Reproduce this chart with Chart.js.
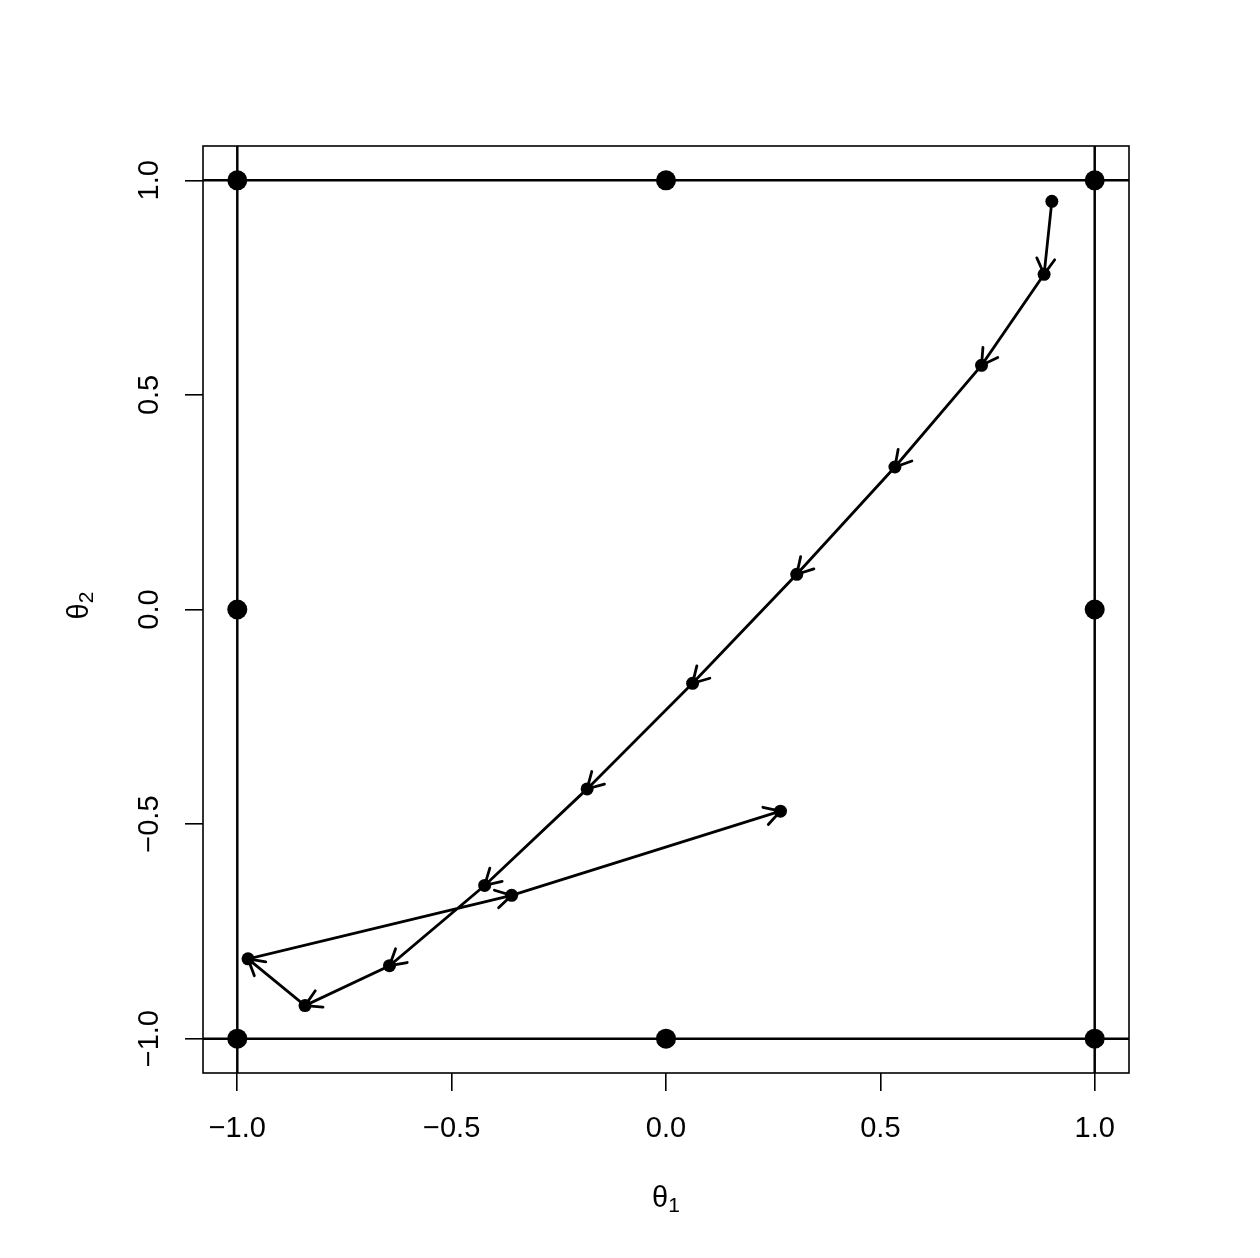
<!DOCTYPE html>
<html>
<head>
<meta charset="utf-8">
<script src="https://cdn.jsdelivr.net/npm/chart.js@4/dist/chart.umd.min.js"></script>
<style>
  html, body { margin: 0; padding: 0; background: #fff; }
  #wrap { width: 1260px; height: 1258px; }
</style>
</head>
<body>
<div id="wrap"><canvas id="ch" width="1260" height="1258"></canvas></div>
<script>
// tick positions on both axes
const xTicks = [-1, -0.5, 0, 0.5, 1];
const yTicks = [-1, -0.5, 0, 0.5, 1];

// design points on the square boundary
const designX = [-1, 0, 1, -1, 1, -1, 0, 1];
const designY = [1, 1, 1, 0, 0, -1, -1, -1];

// iteration path
const pathX = [0.900, 0.882, 0.736, 0.534, 0.305, 0.062, -0.184, -0.423, -0.645, -0.842, -0.975, -0.360, 0.267];
const pathY = [0.951, 0.781, 0.569, 0.332, 0.082, -0.172, -0.418, -0.643, -0.830, -0.923, -0.814, -0.666, -0.470];

// reference lines at the box edges
const refLines = [-1, 1];
const LIM = 1.08;

const FONT = "'Liberation Sans', Arial, Helvetica, sans-serif";
const fmt = v => (v < 0 ? '\u2212' : '') + Math.abs(v).toFixed(1);

const refDatasets = [];
refLines.forEach(v => {
  refDatasets.push({ data: [{ x: v, y: -LIM }, { x: v, y: LIM }] });
  refDatasets.push({ data: [{ x: -LIM, y: v }, { x: LIM, y: v }] });
});
refDatasets.forEach(d => Object.assign(d, {
  showLine: true, borderColor: '#000', borderWidth: 2.5, pointRadius: 0
}));

// box around the plot region + arrowheads on the path
const boxArrows = {
  id: 'boxArrows',
  afterDatasetsDraw(chart) {
    const { ctx, chartArea: a } = chart;
    ctx.save();
    ctx.strokeStyle = '#000';
    ctx.lineWidth = 1.6;
    ctx.strokeRect(a.left, a.top, a.right - a.left, a.bottom - a.top);

    const pts = chart.getDatasetMeta(chart.data.datasets.length - 1).data;
    ctx.lineWidth = 2.8;
    ctx.lineCap = 'round';
    const len = 18, ang = Math.PI / 6;
    for (let i = 1; i < pts.length; i++) {
      const p0 = pts[i - 1], p1 = pts[i];
      const t = Math.atan2(p0.y - p1.y, p0.x - p1.x);
      ctx.beginPath();
      ctx.moveTo(p1.x + len * Math.cos(t + ang), p1.y + len * Math.sin(t + ang));
      ctx.lineTo(p1.x, p1.y);
      ctx.lineTo(p1.x + len * Math.cos(t - ang), p1.y + len * Math.sin(t - ang));
      ctx.stroke();
    }
    ctx.restore();
  },
  afterDraw(chart) {
    // axis titles with subscripts
    const { ctx, chartArea: a } = chart;
    const cx = (a.left + a.right) / 2, cy = (a.top + a.bottom) / 2;
    ctx.save();
    ctx.fillStyle = '#000';
    ctx.textBaseline = 'alphabetic';
    ctx.textAlign = 'left';
    const draw = (sub, x, y) => {
      ctx.font = '29px ' + FONT;
      const w1 = ctx.measureText('\u03b8').width;
      ctx.font = '21px ' + FONT;
      const w2 = ctx.measureText(sub).width;
      const x0 = x - (w1 + w2) / 2;
      ctx.font = '29px ' + FONT;
      ctx.fillText('\u03b8', x0, y);
      ctx.font = '21px ' + FONT;
      ctx.fillText(sub, x0 + w1, y + 5);
    };
    draw('1', cx, 1207);
    ctx.translate(88, cy - 4);
    ctx.rotate(-Math.PI / 2);
    draw('2', 0, 0);
    ctx.restore();
  }
};

new Chart(document.getElementById('ch'), {
  type: 'scatter',
  data: {
    datasets: [
      ...refDatasets,
      {
        data: designX.map((x, i) => ({ x, y: designY[i] })),
        pointRadius: 10, pointBorderWidth: 0,
        backgroundColor: '#000', borderColor: '#000'
      },
      {
        data: pathX.map((x, i) => ({ x, y: pathY[i] })),
        showLine: true, borderColor: '#000', borderWidth: 2.8,
        pointRadius: 6.5, pointBorderWidth: 0, backgroundColor: '#000'
      }
    ]
  },
  options: {
    responsive: false, animation: false, devicePixelRatio: 1,
    layout: { padding: { left: 0, top: 146, right: 131, bottom: 0 } },
    plugins: { legend: { display: false }, tooltip: { enabled: false } },
    scales: {
      x: {
        type: 'linear', position: 'bottom', min: -LIM, max: LIM,
        afterFit: s => { s.height = 185; },
        afterBuildTicks: s => { s.ticks = xTicks.map(v => ({ value: v })); },
        grid: { display: true, drawOnChartArea: false, drawTicks: true, tickLength: 18, color: '#000', lineWidth: 1.6 },
        border: { display: false },
        ticks: { color: '#000', padding: 23, autoSkip: false, maxRotation: 0, font: { family: FONT, size: 29, lineHeight: 1 }, callback: v => fmt(v) }
      },
      y: {
        type: 'linear', position: 'left', min: -LIM, max: LIM,
        afterFit: s => { s.width = 203; },
        afterBuildTicks: s => { s.ticks = yTicks.map(v => ({ value: v })); },
        grid: { display: true, drawOnChartArea: false, drawTicks: true, tickLength: 18, color: '#000', lineWidth: 1.6 },
        border: { display: false },
        ticks: { color: '#000', padding: 6, autoSkip: false, minRotation: 90, maxRotation: 90, crossAlign: 'center', font: { family: FONT, size: 29, lineHeight: 1 }, callback: v => fmt(v) }
      }
    }
  },
  plugins: [boxArrows]
});
</script>
</body>
</html>
